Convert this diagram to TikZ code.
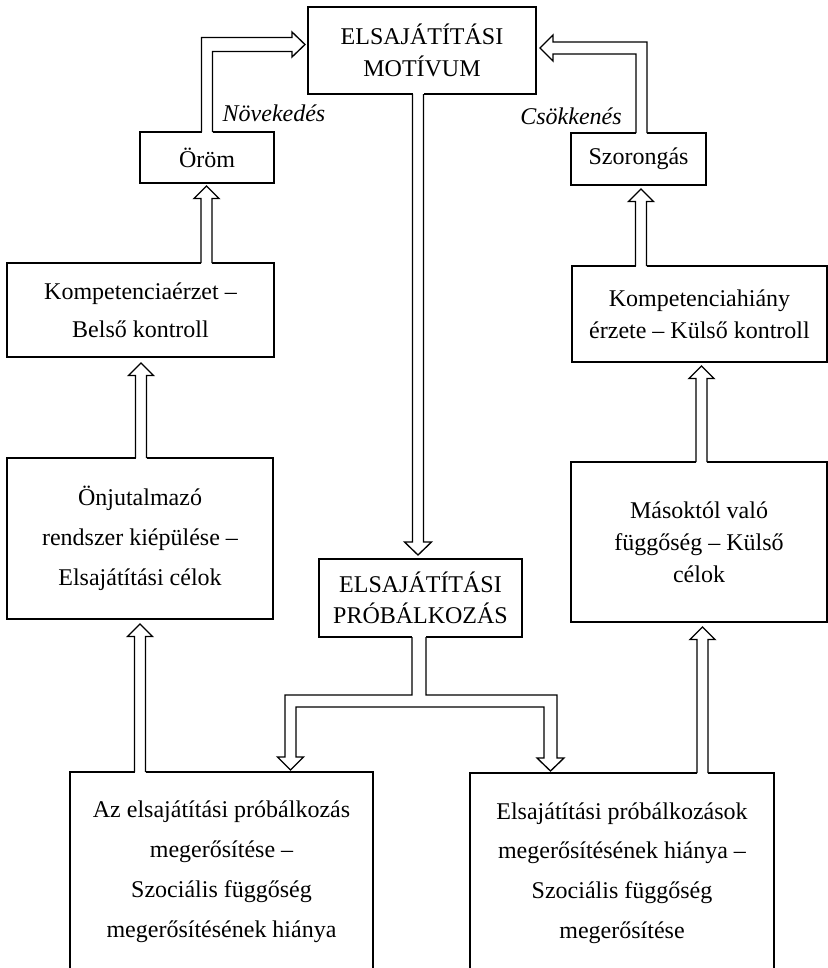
\documentclass[tikz,border=0pt]{standalone}
\usepackage{fontspec}
\setmainfont{Liberation Serif}
\usetikzlibrary{calc}
\tikzset{
  box/.style={draw, line width=1.1pt, inner sep=0pt, outer sep=0pt, align=center, fill=white},
  arr/.style={draw, line width=1pt, line join=miter},
  lbl/.style={font=\fontsize{18}{24}\selectfont\itshape, inner sep=0pt, anchor=base},
}
\newcommand{\blk}[3]{%
  \fill[white] ($(#2)+(-#3,-1.3)$) rectangle ($(#2)+(#3,1.3)$);
  \fill[white] #1 -- cycle;
  \draw[arr] #1;}
\newcommand{\blkup}[2]{%
  \blk{($(#1)+(-5.5,0)$) -- ($(#2)+(-5.5,12.5)$) -- ($(#2)+(-12.5,12.5)$) -- (#2) -- ($(#2)+(12.5,12.5)$) -- ($(#2)+(5.5,12.5)$) -- ($(#1)+(5.5,0)$)}{#1}{5.5}}
\newcommand{\blkdown}[2]{%
  \blk{($(#1)+(-5.5,0)$) -- ($(#2)+(-5.5,-13)$) -- ($(#2)+(-13.5,-13)$) -- (#2) -- ($(#2)+(13.5,-13)$) -- ($(#2)+(5.5,-13)$) -- ($(#1)+(5.5,0)$)}{#1}{5.5}}
\begin{document}
\begin{tikzpicture}[x=0.75pt,y=-0.75pt]
\useasboundingbox (0,0) rectangle (828,968);
\fill[white] (0,0) rectangle (828,968);

% boxes
\node[box, minimum width=171pt, minimum height=65.25pt, font=\fontsize{18}{24}\selectfont] (mot) at (422,50.5) {ELSAJÁTÍTÁSI\\MOTÍVUM};
\node[box, minimum width=100.5pt, minimum height=38.25pt, font=\fontsize{18}{24}\selectfont] (orom) at (207,157.5) {Öröm};
\node[box, minimum width=101.25pt, minimum height=39pt, font=\fontsize{18}{24}\selectfont] (szor) at (638.5,159) {Szorongás};
\node[box, minimum width=200.25pt, minimum height=70.5pt, font=\fontsize{18}{28.5}\selectfont] (komp) at (140.5,310) {Kompetenciaérzet –\\Belső kontroll};
\node[box, minimum width=191.25pt, minimum height=72pt, font=\fontsize{18}{24}\selectfont] (khiany) at (699.5,314) {Kompetenciahiány\\érzete – Külső kontroll};
\node[box, minimum width=199.5pt, minimum height=120.75pt, font=\fontsize{18}{30}\selectfont] (onj) at (140,538.5) {Önjutalmazó\\rendszer kiépülése –\\Elsajátítási célok};
\node[box, minimum width=192pt, minimum height=120pt, font=\fontsize{18}{24}\selectfont] (masok) at (699,542) {Másoktól való\\függőség – Külső\\célok};
\node[box, minimum width=152.25pt, minimum height=58.5pt, font=\fontsize{18}{23.25}\selectfont] (prob) at (420.5,598) {ELSAJÁTÍTÁSI\\PRÓBÁLKOZÁS};
\node[box, minimum width=227.25pt, minimum height=150pt, font=\fontsize{18}{30}\selectfont] (bl) at (221.5,872) {Az elsajátítási próbálkozás\\megerősítése –\\Szociális függőség\\megerősítésének hiánya};
\node[box, minimum width=228pt, minimum height=150pt, font=\fontsize{18}{29.75}\selectfont] (br) at (622,873) {Elsajátítási próbálkozások\\megerősítésének hiánya –\\Szociális függőség\\megerősítése};

% labels
\node[lbl] (nov) at (274,121) {Növekedés};
\node[lbl] (csok) at (571,124) {Csökkenés};

% vertical up arrows
\coordinate (u1) at ($(onj.south)+(0,5)$);
\coordinate (b1) at (bl.north -| u1);
\blkup{b1}{u1}
\coordinate (u2) at ($(komp.south)+(0.5,6)$);
\coordinate (b2) at (onj.north -| u2);
\blkup{b2}{u2}
\coordinate (u3) at ($(orom.south)+(-0.5,3)$);
\coordinate (b3) at (komp.north -| u3);
\blkup{b3}{u3}
\coordinate (u4) at ($(masok.south)+(3.5,5)$);
\coordinate (b4) at (br.north -| u4);
\blkup{b4}{u4}
\coordinate (u5) at ($(khiany.south)+(2,4)$);
\coordinate (b5) at (masok.north -| u5);
\blkup{b5}{u5}
\coordinate (u6) at ($(szor.south)+(2.5,4)$);
\coordinate (b6) at (khiany.north -| u6);
\blkup{b6}{u6}

% down arrow motivum -> probalkozas
\coordinate (tm) at ($(prob.north)+(-2.5,-4)$);
\coordinate (sm) at (mot.south -| tm);
\blkdown{sm}{tm}

% bent arrow orom -> motivum
\coordinate (ta) at ($(mot.west)+(-3,-6)$);
\coordinate (ca) at (orom.north |- ta);
\blk{($(orom.north)+(-5.5,0)$) -- ($(ca)+(-5.5,-7)$) -- ($(ta)+(-13,-7)$) -- ($(ta)+(-13,-12.5)$) -- (ta) -- ($(ta)+(-13,12.5)$) -- ($(ta)+(-13,7)$) -- ($(ca)+(5.5,7)$) -- ($(orom.north)+(5.5,0)$)}{orom.north}{5.5}

% bent arrow szorongas -> motivum
\coordinate (tb) at ($(mot.east)+(4,-2.5)$);
\coordinate (sb) at ($(szor.north)+(3,0)$);
\coordinate (cb) at (sb |- tb);
\blk{($(sb)+(5.5,0)$) -- ($(cb)+(5.5,-6)$) -- ($(tb)+(13,-6)$) -- ($(tb)+(13,-13)$) -- (tb) -- ($(tb)+(13,13)$) -- ($(tb)+(13,6)$) -- ($(cb)+(-5.5,6)$) -- ($(sb)+(-5.5,0)$)}{sb}{5.5}

% split arrow probalkozas -> both bottom boxes
\coordinate (ps) at ($(prob.south)+(-1.5,0)$);
\coordinate (pb) at ($(ps)+(0,64)$);
\coordinate (tl) at ($(bl.north)+(69,-2)$);
\coordinate (tr) at ($(br.north)+(-71.5,-2)$);
\coordinate (cl) at (tl |- pb);
\coordinate (cr) at (tr |- pb);
\blk{($(ps)+(-7,0)$) -- ($(pb)+(-7,-6)$) -- ($(cl)+(-5.5,-6)$) -- ($(tl)+(-5.5,-13)$) -- ($(tl)+(-13,-13)$) -- (tl) -- ($(tl)+(13,-13)$) -- ($(tl)+(5.5,-13)$) -- ($(cl)+(5.5,6)$) -- ($(cr)+(-6.5,6)$) -- ($(tr)+(-6.5,-13)$) -- ($(tr)+(-13.5,-13)$) -- (tr) -- ($(tr)+(13.5,-13)$) -- ($(tr)+(6.5,-13)$) -- ($(cr)+(6.5,-6)$) -- ($(pb)+(7,-6)$) -- ($(ps)+(7,0)$)}{ps}{7}
\end{tikzpicture}
\end{document}
